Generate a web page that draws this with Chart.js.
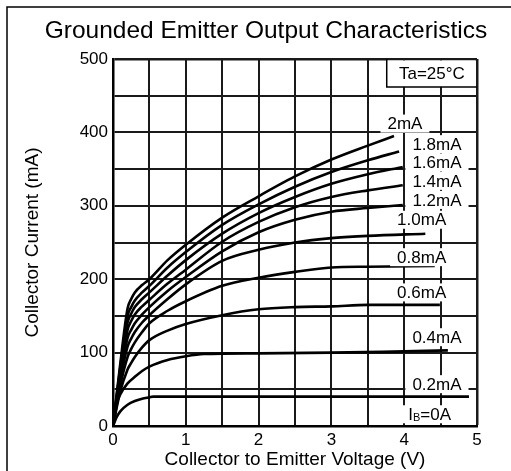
<!DOCTYPE html>
<html>
<head>
<meta charset="utf-8">
<script src="https://cdn.jsdelivr.net/npm/chart.js@4/dist/chart.umd.min.js"></script>
<style>
  html, body { margin: 0; padding: 0; background: #fff; }
  #wrap { width: 511px; height: 471px; }
</style>
</head>
<body>
<div id="wrap"><canvas id="c" width="511" height="471"></canvas></div>
<script>
// IB curves, [Vce (V), Ic (mA)]
const curve20 = [[0,0],[0.1,85],[0.2,160],[0.25,173],[0.3,182],[0.4,192],[0.5,200],[0.75,226],[1,247],[1.5,284],[2,313],[2.5,340],[3,363],[3.5,382],[3.86,395]];
const curve18 = [[0,0],[0.1,80],[0.2,150],[0.25,162],[0.3,171],[0.4,182],[0.5,191],[0.75,216],[1,237],[1.5,274],[2,302],[2.5,326],[3,346],[3.5,362],[3.93,374]];
const curve16 = [[0,0],[0.1,76],[0.2,141],[0.25,153],[0.3,162],[0.4,173],[0.5,182],[0.75,205],[1,226],[1.5,262],[2,290],[2.5,312],[3,330],[3.5,343],[3.98,353]];
const curve14 = [[0,0],[0.1,72],[0.2,131],[0.25,143],[0.3,152],[0.4,163],[0.5,172],[0.75,194],[1,213],[1.5,251],[2,278],[2.5,298],[3,312],[3.5,321],[3.98,328]];
const curve12 = [[0,0],[0.1,67],[0.2,120],[0.25,131],[0.3,140],[0.4,152],[0.5,162],[0.75,184],[1,203],[1.5,238],[2,264],[2.5,281],[3,292],[3.5,297],[3.98,301]];
const curve10 = [[0,0],[0.1,62],[0.2,108],[0.25,119],[0.3,128],[0.4,141],[0.5,151],[0.75,173],[1,193],[1.5,225],[2,240],[2.5,250],[3,256],[3.5,259],[4.29,262]];
const curve08 = [[0,0],[0.1,55],[0.2,94],[0.25,105],[0.3,114],[0.4,128],[0.5,140],[0.75,157],[1,170],[1.5,191],[2,202],[2.5,210],[3,216],[3.5,217],[4.42,218]];
const curve06 = [[0,0],[0.1,47],[0.2,77],[0.25,86],[0.3,94],[0.4,107],[0.5,117],[0.75,130],[1,139],[1.5,151],[2,159],[2.5,162],[3,163],[3.5,165],[4.49,165]];
const curve04 = [[0,0],[0.05,30],[0.1,43],[0.2,58],[0.3,67],[0.4,75],[0.5,81],[0.75,90],[1,95],[1.25,98],[2,99],[3,100],[3.7,101],[4.6,103]];
const curve02 = [[0,0],[0.05,12],[0.1,20],[0.2,29],[0.3,34],[0.4,37],[0.5,39],[0.55,40],[4.89,40]];

const curves = [curve20, curve18, curve16, curve14, curve12, curve10, curve08, curve06, curve04, curve02];

// curve labels (anchor in chart units)
const labelText = ['2mA','1.8mA','1.6mA','1.4mA','1.2mA','1.0mA','0.8mA','0.6mA','0.4mA','0.2mA'];
const labelV = [4.01, 4.45, 4.45, 4.45, 4.45, 4.24, 4.24, 4.24, 4.45, 4.45];
const labelI = [412, 384, 359, 334, 308, 281, 230, 182, 121, 57];

const titleText = 'Grounded Emitter Output Characteristics';
const FONT = "'Liberation Sans', Arial, sans-serif";

const extras = {
  id: 'extras',
  beforeDraw(chart) {
    const ctx = chart.ctx;
    ctx.save();
    ctx.fillStyle = '#fff';
    ctx.fillRect(0, 0, chart.width, chart.height);
    // outer frame (cropped on right / bottom)
    ctx.strokeStyle = '#000';
    ctx.lineWidth = 1.5;
    ctx.beginPath();
    ctx.moveTo(7, chart.height);
    ctx.lineTo(7, 7);
    ctx.lineTo(chart.width, 7);
    ctx.stroke();
    // title
    ctx.fillStyle = '#000';
    ctx.font = '24.5px ' + FONT;
    ctx.textAlign = 'center';
    ctx.textBaseline = 'middle';
    ctx.fillText(titleText, 266, 31);
    ctx.restore();
  },
  afterDatasetsDraw(chart) {
    const {ctx, chartArea, scales: {x, y}} = chart;
    ctx.save();
    ctx.font = '17px ' + FONT;
    ctx.textAlign = 'center';
    ctx.textBaseline = 'middle';
    ctx.fillStyle = '#000';

    // Ta box
    const bl = x.getPixelForValue(3.76), bb = y.getPixelForValue(462);
    ctx.fillStyle = '#fff';
    ctx.fillRect(bl, chartArea.top + 1.5, chartArea.right - bl - 1.5, bb - chartArea.top - 1.5);
    ctx.strokeStyle = '#000';
    ctx.lineWidth = 1.5;
    ctx.beginPath();
    ctx.moveTo(bl, chartArea.top);
    ctx.lineTo(bl, bb);
    ctx.lineTo(chartArea.right, bb);
    ctx.stroke();
    ctx.fillStyle = '#000';
    ctx.fillText('Ta=25°C', (bl + chartArea.right) / 2, (chartArea.top + bb) / 2 + 1);

    labelText.forEach((t, i) => {
      const px = x.getPixelForValue(labelV[i]);
      const py = y.getPixelForValue(labelI[i]);
      const w = ctx.measureText(t).width + 14;
      ctx.fillStyle = '#fff';
      ctx.fillRect(px - w / 2, py - 9, w, 18);
      ctx.fillStyle = '#000';
      ctx.fillText(t, px, py + 1);
    });

    // IB=0A with subscript B
    const px = x.getPixelForValue(4.35), py = y.getPixelForValue(16);
    const wI = ctx.measureText('I').width, wR = ctx.measureText('=0A').width;
    ctx.font = '11px ' + FONT;
    const wB = ctx.measureText('B').width;
    const tw = wI + wB + wR;
    ctx.fillStyle = '#fff';
    ctx.fillRect(px - tw / 2 - 7, py - 9, tw + 14, 18);
    ctx.fillStyle = '#000';
    ctx.textAlign = 'left';
    let sx = px - tw / 2;
    ctx.font = '17px ' + FONT;
    ctx.fillText('I', sx, py + 1);
    ctx.font = '11px ' + FONT;
    ctx.fillText('B', sx + wI, py + 4);
    ctx.font = '17px ' + FONT;
    ctx.fillText('=0A', sx + wI + wB, py + 1);
    ctx.restore();
  }
};

new Chart(document.getElementById('c').getContext('2d'), {
  type: 'line',
  data: {
    datasets: curves.map((c, i) => ({
      label: labelText[i],
      data: c.map(p => ({x: p[0], y: p[1]})),
      borderColor: '#000',
      borderWidth: 2.6,
      pointRadius: 0,
      fill: false,
      cubicInterpolationMode: 'monotone'
    }))
  },
  options: {
    responsive: false,
    animation: false,
    layout: {padding: {left: 0, right: 34, top: 59, bottom: 0}},
    plugins: {
      legend: {display: false},
      tooltip: {enabled: false},
      title: {display: false}
    },
    scales: {
      x: {
        type: 'linear',
        min: 0, max: 5,
        afterFit: s => { s.height = 45; },
        ticks: {
          stepSize: 0.5,
          color: '#000',
          padding: 4,
          maxRotation: 0,
          autoSkip: false,
          font: {family: FONT, size: 17},
          callback: v => Number.isInteger(v) ? String(v) : ''
        },
        grid: {
          color: '#1a1a1a',
          drawTicks: false,
          lineWidth: c => (c.tick && c.tick.value === 5) ? 2.5 : 2
        },
        border: {display: true, color: '#000', width: 2.5},
        title: {
          display: true,
          text: 'Collector to Emitter Voltage (V)',
          color: '#000',
          font: {family: FONT, size: 19},
          padding: {top: 0, bottom: 0}
        }
      },
      y: {
        min: 0, max: 500,
        afterFit: s => { s.width = 113; },
        ticks: {
          stepSize: 50,
          color: '#000',
          padding: 5,
          autoSkip: false,
          font: {family: FONT, size: 17},
          callback: v => (v % 100 === 0) ? String(v) : ''
        },
        grid: {
          color: '#1a1a1a',
          drawTicks: false,
          lineWidth: c => (c.tick && c.tick.value === 500) ? 2.5 : 2
        },
        border: {display: true, color: '#000', width: 2.5},
        title: {
          display: true,
          text: 'Collector Current (mA)',
          color: '#000',
          font: {family: FONT, size: 19},
          padding: {top: 21.6, bottom: 0}
        }
      }
    }
  },
  plugins: [extras]
});
</script>
</body>
</html>
